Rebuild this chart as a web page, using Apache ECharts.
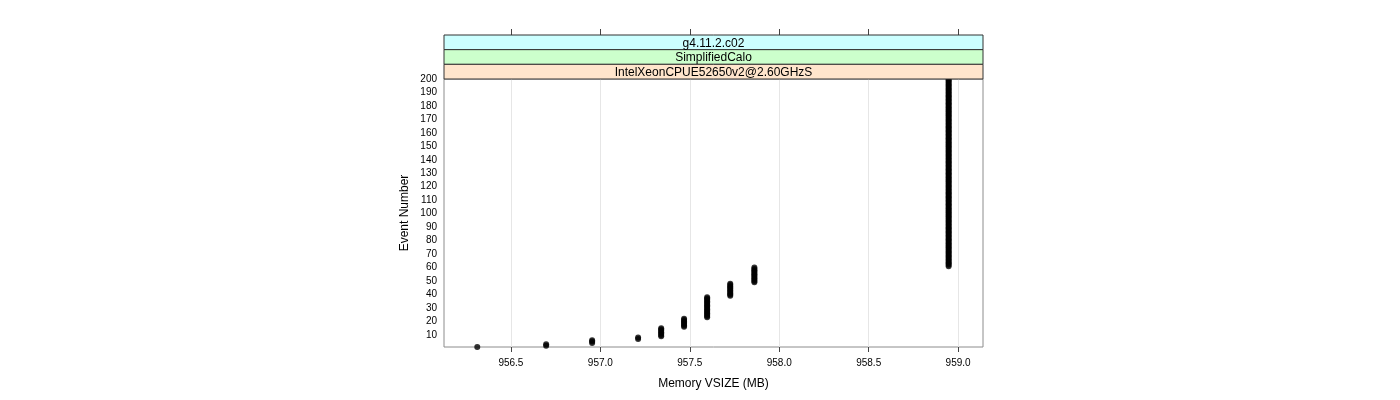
<!DOCTYPE html>
<html>
<head>
<meta charset="utf-8">
<script src="https://cdn.jsdelivr.net/npm/echarts@6/dist/echarts.min.js"></script>
<style>
html,body{margin:0;padding:0;background:#fff;}
#chart{width:1400px;height:400px;}
</style>
</head>
<body>
<div id="chart"></div>
<script>
// Data
const memoryMB   = [956.312, 956.697, 956.954, 957.211, 957.340, 957.468, 957.597, 957.726, 957.861, 958.947];
const firstEvent = [1, 2, 4, 7, 9, 16, 23, 39, 49, 61];
const lastEvent  = [1, 3, 6, 8, 15, 22, 38, 48, 60, 200];
const xTicks = [956.5, 957.0, 957.5, 958.0, 958.5, 959.0];
const yTicks = [10,20,30,40,50,60,70,80,90,100,110,120,130,140,150,160,170,180,190,200];
const stripLabels = ['g4.11.2.c02', 'SimplifiedCalo', 'IntelXeonCPUE52650v2@2.60GHzS'];
const stripColors = ['#ccffff', '#ccffcc', '#ffe5cc'];

const points = [];
memoryMB.forEach((m, i) => {
  for (let e = firstEvent[i]; e <= lastEvent[i]; e++) points.push([m, e]);
});

const FONT = '"Liberation Sans", Arial, Helvetica, sans-serif';
const gridL = 444, gridT = 79, gridW = 539, gridH = 268;
const stripTop = 35, stripH = (gridT - stripTop) / 3;

const graphics = [];
stripLabels.forEach((lab, i) => {
  graphics.push({
    type: 'rect',
    shape: {x: gridL, y: stripTop + i * stripH, width: gridW, height: stripH},
    style: {fill: stripColors[i], stroke: '#333', lineWidth: 1},
    z: 10
  });
  graphics.push({
    type: 'text',
    x: gridL + gridW / 2, y: stripTop + i * stripH + stripH / 2 + 1,
    style: {text: lab, fill: '#000', font: '12px ' + FONT, align: 'center', verticalAlign: 'middle'},
    z: 11
  });
});

const chart = echarts.init(document.getElementById('chart'), null, {renderer: 'canvas'});
chart.setOption({
  animation: false,
  backgroundColor: '#fff',
  textStyle: {fontFamily: FONT},
  grid: {left: gridL, top: gridT, width: gridW, height: gridH, show: true,
         borderColor: '#8c8c8c', borderWidth: 1, backgroundColor: 'transparent'},
  xAxis: [{
    type: 'value', min: 956.126, max: 959.139,
    name: 'Memory VSIZE (MB)', nameLocation: 'middle', nameGap: 31,
    nameTextStyle: {fontSize: 12, color: '#000', fontFamily: FONT},
    axisLine: {show: false},
    axisTick: {show: true, length: 5, lineStyle: {color: '#444'}, customValues: xTicks},
    axisLabel: {show: true, fontSize: 10, color: '#000', margin: 11, fontFamily: FONT,
                customValues: xTicks, formatter: v => v.toFixed(1)},
    splitLine: {show: false}
  }, {
    type: 'value', min: 956.126, max: 959.139, position: 'top', offset: gridT - stripTop,
    axisLine: {show: false},
    axisTick: {show: true, length: 6, lineStyle: {color: '#444'}, customValues: xTicks},
    axisLabel: {show: false},
    splitLine: {show: false}
  }],
  yAxis: {
    type: 'value', min: 1, max: 200,
    name: 'Event Number', nameLocation: 'middle', nameGap: 33,
    nameTextStyle: {fontSize: 12, color: '#000', fontFamily: FONT},
    axisLine: {show: false},
    axisTick: {show: false},
    axisLabel: {show: true, fontSize: 10, color: '#000', margin: 7, fontFamily: FONT,
                customValues: yTicks},
    splitLine: {show: false}
  },
  graphic: graphics,
  series: [{
    type: 'scatter',
    xAxisIndex: 0,
    data: points,
    symbol: 'circle',
    symbolSize: 6,
    itemStyle: {color: '#000'},
    clip: false,
    z: 5,
    markLine: {
      silent: true, symbol: 'none', label: {show: false},
      lineStyle: {color: '#e6e6e6', type: 'solid', width: 1},
      data: xTicks.map(v => ({xAxis: v})),
      z: 1
    }
  }]
});
</script>
</body>
</html>
